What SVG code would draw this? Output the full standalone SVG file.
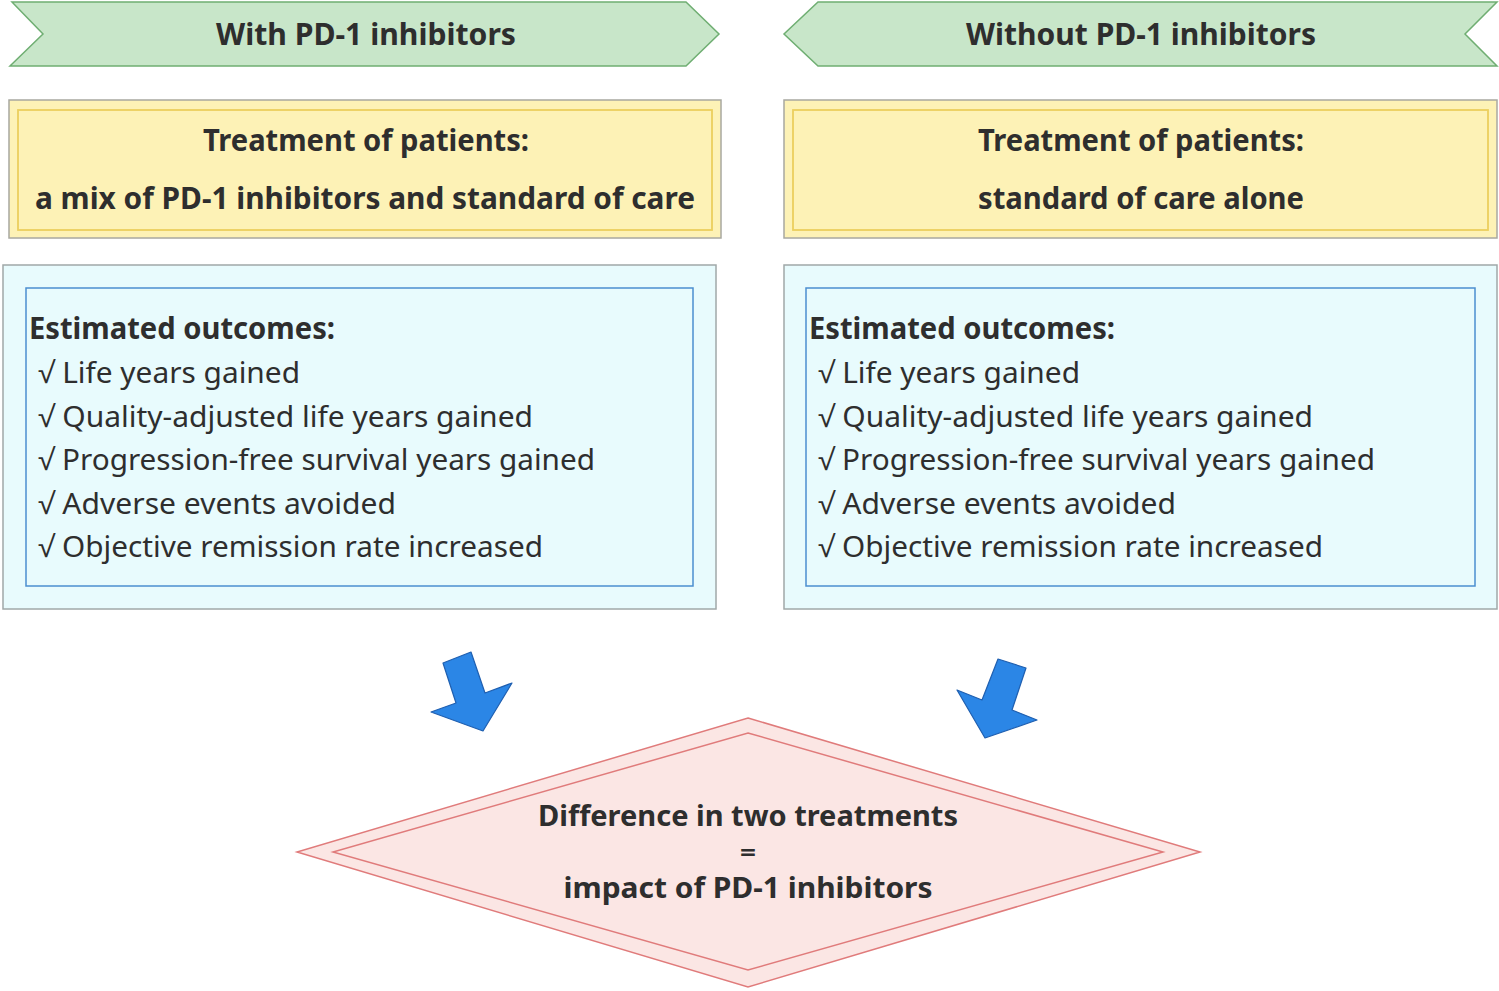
<svg xmlns="http://www.w3.org/2000/svg" width="1499" height="991" viewBox="0 0 1499 991">
<style>
.banner{fill:#c8e6c9;stroke:#6fae72;stroke-width:1.5}
.yo{fill:#fdf2b6;stroke:#a8a8a0;stroke-width:1.5}
.yi{fill:none;stroke:#eccf5e;stroke-width:1.8}
.bo{fill:#e8fbfd;stroke:#a0a8a8;stroke-width:1.5}
.bi{fill:none;stroke:#4b8fcf;stroke-width:1.5}
.arrow{fill:#2b86e6;stroke:#1f5fb0;stroke-width:1.2;stroke-linejoin:round}
.dia{fill:#fbe6e4;stroke:#e07b7b;stroke-width:1.5}
.dia2{fill:none;stroke:#e07b7b;stroke-width:1.5}
text{font-family:"Noto Sans","Open Sans","DejaVu Sans",sans-serif;fill:#2e2e2e;font-size:29px}
.b{font-weight:bold;font-size:30px}
.d{font-size:28px}
.eq{font-size:24px}
.c{text-anchor:middle}
</style>
<g id="banner-left">
<polygon class="banner" points="12,2 686,2 719,34 686,66 10,66 43,34"/>
<text class="b c" x="366" y="45" textLength="300" lengthAdjust="spacingAndGlyphs">With PD-1 inhibitors</text>
</g>
<g id="banner-right">
<polygon class="banner" points="818,2 1497,2 1465,34 1497,66 818,66 784,34"/>
<text class="b c" x="1141" y="45" textLength="350" lengthAdjust="spacingAndGlyphs">Without PD-1 inhibitors</text>
</g>
<g id="treatment-left">
<rect class="yo" x="9" y="100" width="712" height="138"/>
<rect class="yi" x="18" y="110" width="694" height="120"/>
<text class="b c" x="366" y="151" textLength="326" lengthAdjust="spacingAndGlyphs">Treatment of patients:</text>
<text class="b c" x="365" y="209" textLength="660" lengthAdjust="spacingAndGlyphs">a mix of PD-1 inhibitors and standard of care</text>
</g>
<g id="treatment-right">
<rect class="yo" x="784" y="100" width="713" height="138"/>
<rect class="yi" x="793" y="110" width="695" height="120"/>
<text class="b c" x="1141" y="151" textLength="326" lengthAdjust="spacingAndGlyphs">Treatment of patients:</text>
<text class="b c" x="1141" y="209" textLength="326" lengthAdjust="spacingAndGlyphs">standard of care alone</text>
</g>
<g id="outcomes-left">
<rect class="bo" x="3" y="265" width="713" height="344"/>
<rect class="bi" x="26" y="288" width="667" height="298"/>
<text class="b" x="29" y="339" textLength="306" lengthAdjust="spacingAndGlyphs">Estimated outcomes:</text>
<text x="38" y="383" textLength="262" lengthAdjust="spacingAndGlyphs">√ Life years gained</text>
<text x="38" y="427" textLength="495" lengthAdjust="spacingAndGlyphs">√ Quality-adjusted life years gained</text>
<text x="38" y="470" textLength="557" lengthAdjust="spacingAndGlyphs">√ Progression-free survival years gained</text>
<text x="38" y="514" textLength="358" lengthAdjust="spacingAndGlyphs">√ Adverse events avoided</text>
<text x="38" y="557" textLength="505" lengthAdjust="spacingAndGlyphs">√ Objective remission rate increased</text>
</g>
<g id="outcomes-right">
<rect class="bo" x="784" y="265" width="713" height="344"/>
<rect class="bi" x="806" y="288" width="669" height="298"/>
<text class="b" x="809" y="339" textLength="306" lengthAdjust="spacingAndGlyphs">Estimated outcomes:</text>
<text x="818" y="383" textLength="262" lengthAdjust="spacingAndGlyphs">√ Life years gained</text>
<text x="818" y="427" textLength="495" lengthAdjust="spacingAndGlyphs">√ Quality-adjusted life years gained</text>
<text x="818" y="470" textLength="557" lengthAdjust="spacingAndGlyphs">√ Progression-free survival years gained</text>
<text x="818" y="514" textLength="358" lengthAdjust="spacingAndGlyphs">√ Adverse events avoided</text>
<text x="818" y="557" textLength="505" lengthAdjust="spacingAndGlyphs">√ Objective remission rate increased</text>
</g>
<g id="connectors">
<polygon class="arrow" points="443,663 471,652 485,693 512,683 483,731 431,712 456,703"/>
<polygon class="arrow" points="998,659 1026,668 1012,710 1037,720 985,738 957,690 982,700"/>
</g>
<g id="difference">
<polygon class="dia" points="748,718 1200,852 748,987 297,852"/>
<polygon class="dia2" points="748,733 1163,852 748,970 333,852"/>
<text class="b d c" x="748" y="826" textLength="420" lengthAdjust="spacingAndGlyphs">Difference in two treatments</text>
<text class="b eq c" x="748" y="861" textLength="16" lengthAdjust="spacingAndGlyphs">=</text>
<text class="b d c" x="748" y="898" textLength="369" lengthAdjust="spacingAndGlyphs">impact of PD-1 inhibitors</text>
</g>
</svg>
